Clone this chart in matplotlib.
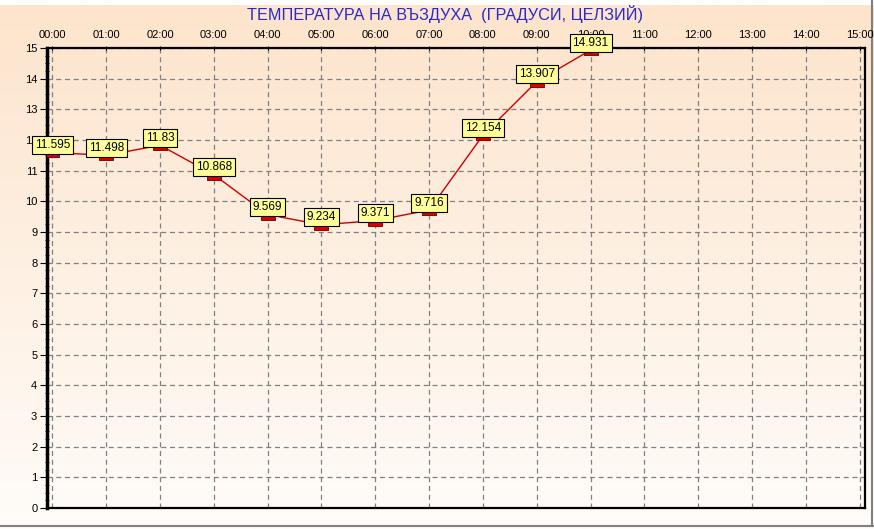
import matplotlib.pyplot as plt
import matplotlib.path as mpath
import numpy as np

plt.rcParams['font.family'] = ['Liberation Sans', 'DejaVu Sans']

# данни
hours = [0, 1, 2, 3, 4, 5, 6, 7, 8, 9, 10]
temps = [11.595, 11.498, 11.83, 10.868, 9.569, 9.234, 9.371, 9.716, 12.154, 13.907, 14.931]
labels = ['11.595', '11.498', '11.83', '10.868', '9.569', '9.234', '9.371', '9.716', '12.154', '13.907', '14.931']
xticks = list(range(16))
xticklabels = ['%02d:00' % h for h in xticks]
yticks = list(range(16))

W, H = 874, 529
fig = plt.figure(figsize=(W / 100, H / 100), dpi=100)

# фон с преливане
bg = fig.add_axes([0, 0, 1, 1], zorder=-10)
grad = np.linspace(0, 1, 256).reshape(-1, 1)
top_c = np.array([253, 228, 204]) / 255
bot_c = np.array([255, 252, 249]) / 255
img = top_c[None, None, :] * (1 - grad[:, :, None]) + bot_c[None, None, :] * grad[:, :, None]
bg.imshow(img, aspect='auto', extent=[0, W, 0, 524 / 529 * H])
bg.set_xlim(0, W)
bg.set_ylim(0, H)
bg.axhline(H - 526, color='#808080', lw=1.5)
bg.axvline(872, ymin=(H - 526) / H, color='#808080', lw=1.5)
bg.axis('off')

ax = fig.add_axes([47 / W, 1 - 508 / H, (865 - 47) / W, (508 - 48) / H])
ax.patch.set_alpha(0)

ax.plot(hours, temps, color='#cc0000', lw=1, zorder=3)
rect = mpath.Path([(-1, -0.7), (1, -0.7), (1, 0.05), (-1, 0.05), (-1, -0.7)], closed=True)
ax.plot(hours, temps, ls='none', marker=rect, markersize=9.5, markerfacecolor='#dd0000',
        markeredgecolor='#660000', markeredgewidth=0.6, zorder=4)

for x, y, t in zip(hours, temps, labels):
    ax.annotate(t, (x, y), xytext=(0, 1), textcoords='offset points', ha='center', va='bottom',
                fontsize=8.5, color='black', zorder=5,
                bbox=dict(boxstyle='square,pad=0.25', fc='#ffff99', ec='black', lw=0.8))

ax.set_xlim(-0.1, 15.1)
ax.set_ylim(0, 15)
ax.set_xticks(xticks)
ax.set_xticklabels(xticklabels)
ax.set_yticks(yticks)
ax.set_yticks(np.arange(0, 15.01, 0.25), minor=True)
ax.xaxis.tick_top()
ax.tick_params(axis='x', length=3, direction='inout', labelsize=8, pad=4, colors='black')
ax.tick_params(axis='y', which='major', length=5, direction='out', labelsize=8, pad=2)
ax.tick_params(axis='y', which='minor', length=3, direction='inout')
ax.tick_params(axis='x', which='minor', length=0)

ax.grid(True, color='#808080', ls=(0, (4, 3)), lw=0.9)

ax.spines['left'].set_linewidth(2.5)
ax.spines['right'].set_linewidth(1.6)
ax.spines['top'].set_linewidth(1.6)
ax.spines['top'].set_linestyle((0, (3, 1)))
ax.spines['bottom'].set_linewidth(1.6)
ax.spines['bottom'].set_linestyle((0, (3, 1)))

fig.text(445 / W, 1 - 14 / H, 'ТЕМПЕРАТУРА НА ВЪЗДУХА  (ГРАДУСИ, ЦЕЛЗИЙ)', ha='center', va='center',
         fontsize=11.7, color='#2a2acc')

fig.savefig('out.png', dpi=100)
